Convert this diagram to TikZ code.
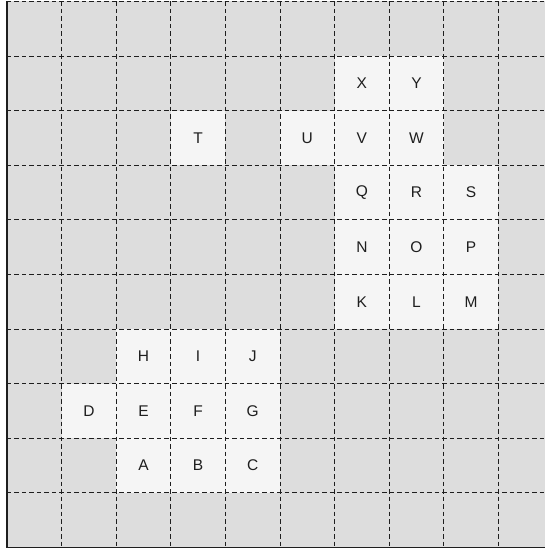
\documentclass[tikz,border=0pt]{standalone}
\usepackage{fontspec}
\setmainfont{Liberation Sans}
\usetikzlibrary{positioning}
\definecolor{cellgrey}{RGB}{221,221,221}
\definecolor{cellfree}{RGB}{245,245,245}
\definecolor{gridline}{RGB}{30,30,30}

\begin{document}
\begin{tikzpicture}[
  x=54.6pt, y=-54.6pt,
  free/.style={fill=cellfree, minimum size=54.6pt, inner sep=0pt,
               font=\fontsize{15.5}{18}\selectfont, text=gridline},
  gridln/.style={draw=gridline, line width=0.9pt, dash pattern=on 4.5pt off 3pt},
  frame/.style={draw=gridline, line width=1.1pt},
]
\useasboundingbox (-0.128,-0.0275) rectangle (9.835,10.027);
\fill[cellgrey] (0,0) rectangle (10,10);

% open cells, column/row/label
\foreach \c/\r/\t in {6/1/X, 7/1/Y,
                      3/2/T, 5/2/U, 6/2/V, 7/2/W,
                      6/3/Q, 7/3/R, 8/3/S,
                      6/4/N, 7/4/O, 8/4/P,
                      6/5/K, 7/5/L, 8/5/M,
                      2/6/H, 3/6/I, 4/6/J,
                      1/7/D, 2/7/E, 3/7/F, 4/7/G,
                      2/8/A, 3/8/B, 4/8/C}
  \node[free] (\t) at (\c+0.5,\r+0.5) {\t};

% dashed grid
\foreach \i in {1,...,9} {
  \draw[gridln] (\i,0) -- (\i,10);
  \draw[gridln] (0,\i) -- (10,\i);
}
\draw[gridln] (0,0) -- (10,0);
\draw[frame] (0,0) -- (0,10) -- (10,10);
\end{tikzpicture}
\end{document}
